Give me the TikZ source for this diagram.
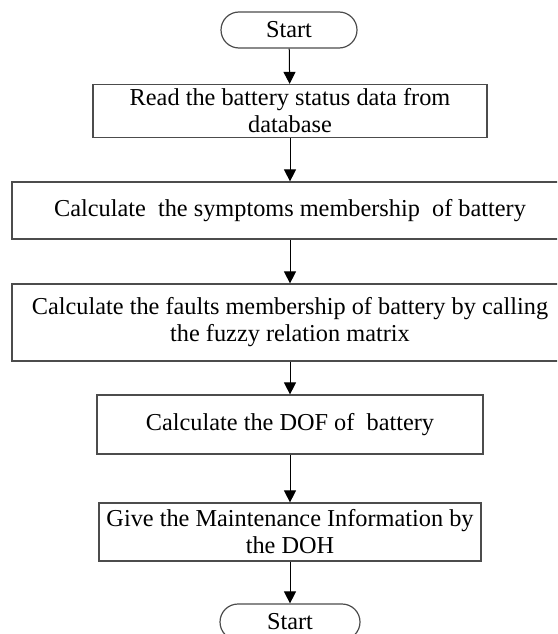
\documentclass[tikz,border=0pt]{standalone}
\usepackage{fontspec}
\setmainfont{Liberation Serif}
\usetikzlibrary{arrows.meta}
\begin{document}
\begin{tikzpicture}[x=1pt,y=-1pt,
  every node/.style={font=\fontsize{24.3pt}{27pt}\selectfont, inner sep=0pt, align=center},
  box/.style={draw=black!70, line width=1.2pt, rectangle},
  term/.style={draw=black!70, line width=1.2pt, rounded corners=18pt, minimum height=36pt},
  arr/.style={draw=black, line width=1pt, -{Triangle[length=12pt,width=12pt]}}]
\useasboundingbox (0,0) rectangle (557,634);
\clip (0,0) rectangle (557,634);
\node[term, minimum width=136pt] (s) at (289,30) {Start};
\node[box, minimum width=394pt, minimum height=53pt] (b1) at (290,111) {Read the battery status data from\\database};
\node[box, minimum width=556pt, minimum height=57pt] (b2) at (290,210.5) {Calculate~ the symptoms membership~ of battery};
\node[box, minimum width=556pt, minimum height=77pt] (b3) at (290,322.5) {Calculate the faults membership of battery by calling\\the fuzzy relation matrix};
\node[box, minimum width=386pt, minimum height=59pt] (b4) at (290,424.5) {Calculate the DOF of~ battery};
\node[box, minimum width=382pt, minimum height=58pt] (b5) at (290,532) {Give the Maintenance Information by\\the DOH};
\node[term, minimum width=140pt] (e) at (290,622) {Start};
\draw[arr] (s) -- (b1);
\draw[arr] (b1) -- (b2);
\draw[arr] (b2) -- (b3);
\draw[arr] (b3) -- (b4);
\draw[arr] (b4) -- (b5);
\draw[arr] (b5) -- (e);
\end{tikzpicture}
\end{document}
